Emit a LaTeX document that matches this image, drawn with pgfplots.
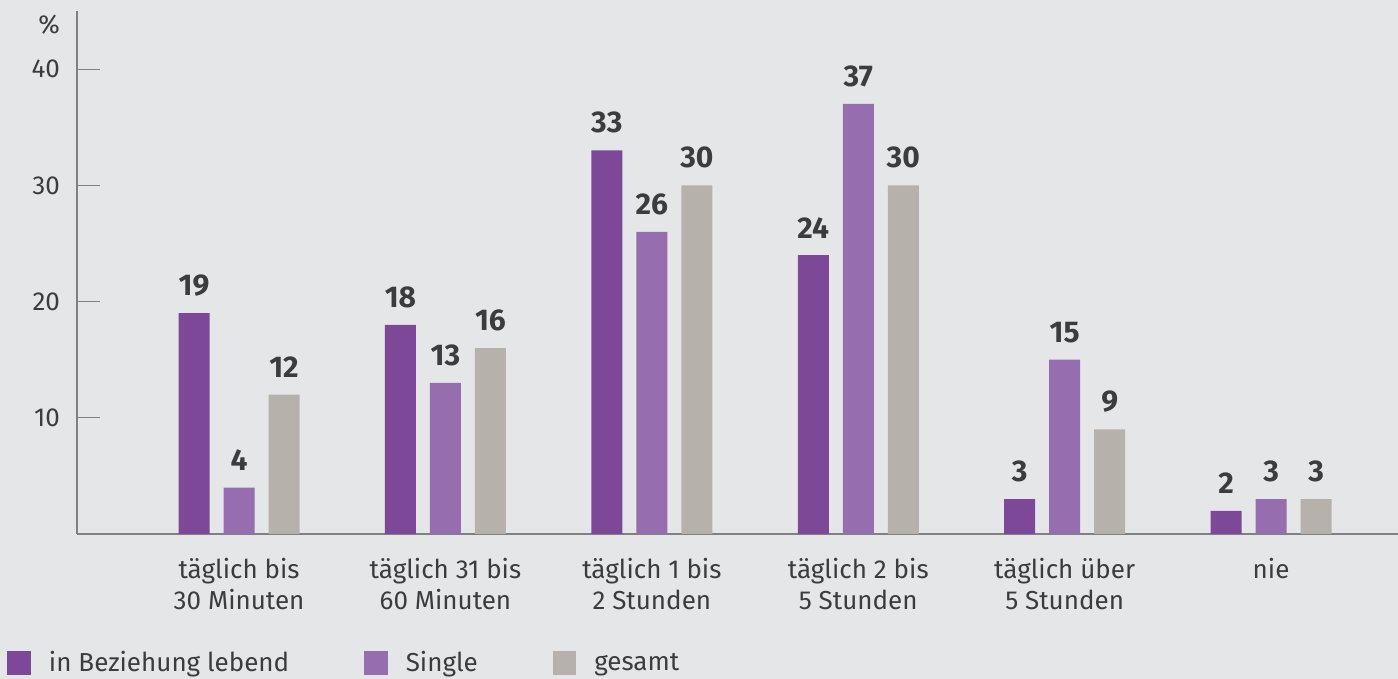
\documentclass[border=0pt]{standalone}
\usepackage{pgfplots}
\pgfplotsset{compat=1.18}
\usepackage{fontspec}
\setmainfont{Fira Sans}
\definecolor{bgc}{HTML}{E5E6E8}
\definecolor{cA}{HTML}{7D4898}
\definecolor{cB}{HTML}{966DAE}
\definecolor{cC}{HTML}{B6B1AB}
\definecolor{txt}{HTML}{3C3C3C}
\definecolor{axc}{HTML}{808080}
\begin{document}
\begin{tikzpicture}
\fill[bgc] (-38.5pt,-72.5pt) rectangle (660.5pt,267pt);
\begin{axis}[
  scale only axis,
  width=660.5pt, height=261.5pt,
  xmin=-0.785, xmax=5.615,
  ymin=0, ymax=45,
  axis x line=bottom, axis y line=left,
  axis line style={-, draw=axc, line width=0.9pt},
  ybar=7pt, bar width=15.5pt,
  ytick={10,20,30,40},
  tick align=inside,
  major tick length=11.5pt,
  ytick style={draw=axc, line width=0.6pt},
  xtick={0,1,2,3,4,5},
  xtick style={draw=none},
  xticklabels={{täglich bis\\30 Minuten},{täglich 31 bis\\60 Minuten},{täglich 1 bis\\2 Stunden},{täglich 2 bis\\5 Stunden},{täglich über\\5 Stunden},{nie}},
  xticklabel style={align=center, font=\fontsize{13}{15.5}\selectfont, text=txt, yshift=-8.5pt},
  yticklabel style={font=\fontsize{13}{15.5}\selectfont, text=txt, xshift=-5pt},
  /pgf/number format/assume math mode=true,
  nodes near coords,
  every node near coord/.append style={font=\fontsize{15}{18}\selectfont\bfseries, text=txt, yshift=5pt},
  clip=false,
  legend columns=3,
  legend style={at={(rel axis cs:0,0)}, anchor=west, xshift=-35pt, yshift=-64.5pt,
    draw=none, fill=none, inner sep=0pt, font=\fontsize{13}{15.5}\selectfont, text=txt,
    /tikz/every even column/.append style={column sep=35.5pt},
    /tikz/every odd column/.append style={column sep=7pt}},
  legend image code/.code={\fill[#1] (0pt,-5.9pt) rectangle (11.8pt,5.9pt);},
]
\addplot[fill=cA, draw=none] coordinates {(0,19) (1,18) (2,33) (3,24) (4,3) (5,2)};
\addplot[fill=cB, draw=none] coordinates {(0,4) (1,13) (2,26) (3,37) (4,15) (5,3)};
\addplot[fill=cC, draw=none] coordinates {(0,12) (1,16) (2,30) (3,30) (4,9) (5,3)};
\legend{in Beziehung lebend, Single, gesamt}
\node[anchor=east, font=\fontsize{13}{15.5}\selectfont, text=txt] at (axis cs:-0.785,43.8) [xshift=-5pt] {\%};
\end{axis}
\pgfresetboundingbox
\useasboundingbox (-38.5pt,-72.5pt) rectangle (660.5pt,267pt);
\end{tikzpicture}
\end{document}
